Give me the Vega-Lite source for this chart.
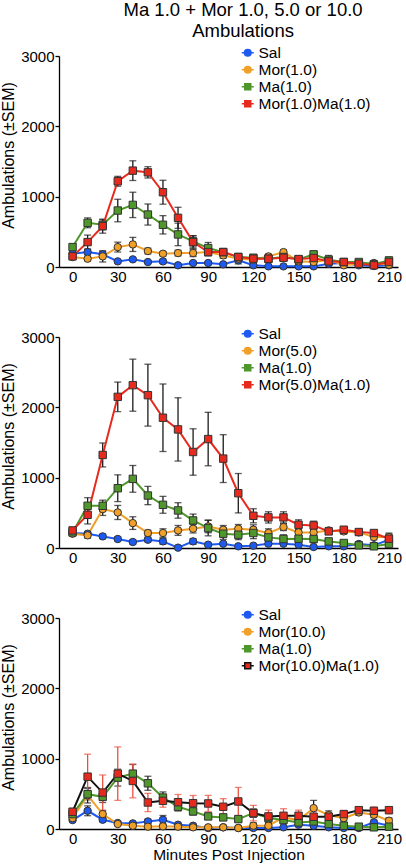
{
  "$schema": "https://vega.github.io/schema/vega-lite/v6.json",
  "padding": {"left": 0, "top": 0, "right": 0, "bottom": 0},
  "background": "white",
  "title": {"text": ["Ma 1.0 + Mor 1.0, 5.0 or 10.0", "Ambulations"], "font": "Liberation Sans", "fontSize": 18.5, "fontWeight": "normal", "lineHeight": 21, "color": "#000", "anchor": "middle", "dx": 42, "offset": 5},
  "datasets": {
    "p1": [
      {"s":"Sal","t":0,"v":189,"e":30},{"s":"Sal","t":10,"v":212,"e":40},{"s":"Sal","t":20,"v":180,"e":40},{"s":"Sal","t":30,"v":80,"e":20},{"s":"Sal","t":40,"v":109,"e":20},{"s":"Sal","t":50,"v":71,"e":20},{"s":"Sal","t":60,"v":80,"e":30},{"s":"Sal","t":70,"v":24,"e":15},{"s":"Sal","t":80,"v":57,"e":20},{"s":"Sal","t":90,"v":57,"e":20},{"s":"Sal","t":100,"v":38,"e":15},{"s":"Sal","t":110,"v":94,"e":50},{"s":"Sal","t":120,"v":24,"e":15},{"s":"Sal","t":130,"v":9,"e":8},{"s":"Sal","t":140,"v":9,"e":8},{"s":"Sal","t":150,"v":9,"e":8},{"s":"Sal","t":160,"v":9,"e":8},{"s":"Sal","t":170,"v":47,"e":20},{"s":"Sal","t":180,"v":57,"e":20},{"s":"Sal","t":190,"v":24,"e":15},{"s":"Sal","t":200,"v":14,"e":10},{"s":"Sal","t":210,"v":24,"e":15},
      {"s":"Mor(1.0)","t":0,"v":142,"e":30},{"s":"Mor(1.0)","t":10,"v":118,"e":30},{"s":"Mor(1.0)","t":20,"v":151,"e":80},{"s":"Mor(1.0)","t":30,"v":283,"e":70},{"s":"Mor(1.0)","t":40,"v":321,"e":100},{"s":"Mor(1.0)","t":50,"v":227,"e":40},{"s":"Mor(1.0)","t":60,"v":189,"e":30},{"s":"Mor(1.0)","t":70,"v":198,"e":40},{"s":"Mor(1.0)","t":80,"v":198,"e":50},{"s":"Mor(1.0)","t":90,"v":212,"e":50},{"s":"Mor(1.0)","t":100,"v":165,"e":40},{"s":"Mor(1.0)","t":110,"v":118,"e":30},{"s":"Mor(1.0)","t":120,"v":104,"e":30},{"s":"Mor(1.0)","t":130,"v":151,"e":30},{"s":"Mor(1.0)","t":140,"v":212,"e":30},{"s":"Mor(1.0)","t":150,"v":80,"e":20},{"s":"Mor(1.0)","t":160,"v":71,"e":20},{"s":"Mor(1.0)","t":170,"v":104,"e":30},{"s":"Mor(1.0)","t":180,"v":24,"e":15},{"s":"Mor(1.0)","t":190,"v":47,"e":20},{"s":"Mor(1.0)","t":200,"v":57,"e":20},{"s":"Mor(1.0)","t":210,"v":33,"e":20},
      {"s":"Ma(1.0)","t":0,"v":283,"e":40},{"s":"Ma(1.0)","t":10,"v":628,"e":70},{"s":"Ma(1.0)","t":20,"v":600,"e":70},{"s":"Ma(1.0)","t":30,"v":803,"e":160},{"s":"Ma(1.0)","t":40,"v":883,"e":180},{"s":"Ma(1.0)","t":50,"v":746,"e":150},{"s":"Ma(1.0)","t":60,"v":600,"e":130},{"s":"Ma(1.0)","t":70,"v":463,"e":160},{"s":"Ma(1.0)","t":80,"v":364,"e":80},{"s":"Ma(1.0)","t":90,"v":269,"e":80},{"s":"Ma(1.0)","t":100,"v":212,"e":50},{"s":"Ma(1.0)","t":110,"v":142,"e":40},{"s":"Ma(1.0)","t":120,"v":132,"e":30},{"s":"Ma(1.0)","t":130,"v":118,"e":30},{"s":"Ma(1.0)","t":140,"v":142,"e":30},{"s":"Ma(1.0)","t":150,"v":109,"e":30},{"s":"Ma(1.0)","t":160,"v":180,"e":40},{"s":"Ma(1.0)","t":170,"v":104,"e":60},{"s":"Ma(1.0)","t":180,"v":71,"e":30},{"s":"Ma(1.0)","t":190,"v":71,"e":20},{"s":"Ma(1.0)","t":200,"v":38,"e":20},{"s":"Ma(1.0)","t":210,"v":94,"e":30},
      {"s":"Mor(1.0)Ma(1.0)","t":0,"v":151,"e":40},{"s":"Mor(1.0)Ma(1.0)","t":10,"v":354,"e":100},{"s":"Mor(1.0)Ma(1.0)","t":20,"v":581,"e":100},{"s":"Mor(1.0)Ma(1.0)","t":30,"v":1219,"e":70},{"s":"Mor(1.0)Ma(1.0)","t":40,"v":1370,"e":140},{"s":"Mor(1.0)Ma(1.0)","t":50,"v":1346,"e":80},{"s":"Mor(1.0)Ma(1.0)","t":60,"v":1063,"e":170},{"s":"Mor(1.0)Ma(1.0)","t":70,"v":699,"e":150},{"s":"Mor(1.0)Ma(1.0)","t":80,"v":354,"e":90},{"s":"Mor(1.0)Ma(1.0)","t":90,"v":212,"e":50},{"s":"Mor(1.0)Ma(1.0)","t":100,"v":212,"e":40},{"s":"Mor(1.0)Ma(1.0)","t":110,"v":142,"e":30},{"s":"Mor(1.0)Ma(1.0)","t":120,"v":118,"e":30},{"s":"Mor(1.0)Ma(1.0)","t":130,"v":118,"e":30},{"s":"Mor(1.0)Ma(1.0)","t":140,"v":132,"e":30},{"s":"Mor(1.0)Ma(1.0)","t":150,"v":113,"e":30},{"s":"Mor(1.0)Ma(1.0)","t":160,"v":128,"e":30},{"s":"Mor(1.0)Ma(1.0)","t":170,"v":80,"e":30},{"s":"Mor(1.0)Ma(1.0)","t":180,"v":71,"e":20},{"s":"Mor(1.0)Ma(1.0)","t":190,"v":47,"e":20},{"s":"Mor(1.0)Ma(1.0)","t":200,"v":24,"e":15},{"s":"Mor(1.0)Ma(1.0)","t":210,"v":71,"e":20}
    ],
    "p2": [
      {"s":"Sal","t":0,"v":213,"e":30},{"s":"Sal","t":10,"v":203,"e":30},{"s":"Sal","t":20,"v":165,"e":30},{"s":"Sal","t":30,"v":128,"e":30},{"s":"Sal","t":40,"v":85,"e":30},{"s":"Sal","t":50,"v":118,"e":30},{"s":"Sal","t":60,"v":94,"e":40},{"s":"Sal","t":70,"v":5,"e":5},{"s":"Sal","t":80,"v":94,"e":40},{"s":"Sal","t":90,"v":47,"e":20},{"s":"Sal","t":100,"v":61,"e":20},{"s":"Sal","t":110,"v":24,"e":15},{"s":"Sal","t":120,"v":33,"e":20},{"s":"Sal","t":130,"v":61,"e":20},{"s":"Sal","t":140,"v":61,"e":20},{"s":"Sal","t":150,"v":47,"e":20},{"s":"Sal","t":160,"v":14,"e":10},{"s":"Sal","t":170,"v":24,"e":15},{"s":"Sal","t":180,"v":24,"e":15},{"s":"Sal","t":190,"v":57,"e":20},{"s":"Sal","t":200,"v":38,"e":20},{"s":"Sal","t":210,"v":118,"e":30},
      {"s":"Mor(5.0)","t":0,"v":203,"e":30},{"s":"Mor(5.0)","t":10,"v":180,"e":40},{"s":"Mor(5.0)","t":20,"v":553,"e":90},{"s":"Mor(5.0)","t":30,"v":505,"e":100},{"s":"Mor(5.0)","t":40,"v":354,"e":90},{"s":"Mor(5.0)","t":50,"v":213,"e":40},{"s":"Mor(5.0)","t":60,"v":213,"e":60},{"s":"Mor(5.0)","t":70,"v":250,"e":70},{"s":"Mor(5.0)","t":80,"v":274,"e":60},{"s":"Mor(5.0)","t":90,"v":307,"e":90},{"s":"Mor(5.0)","t":100,"v":260,"e":60},{"s":"Mor(5.0)","t":110,"v":274,"e":60},{"s":"Mor(5.0)","t":120,"v":260,"e":70},{"s":"Mor(5.0)","t":130,"v":213,"e":60},{"s":"Mor(5.0)","t":140,"v":298,"e":50},{"s":"Mor(5.0)","t":150,"v":222,"e":50},{"s":"Mor(5.0)","t":160,"v":222,"e":50},{"s":"Mor(5.0)","t":170,"v":250,"e":40},{"s":"Mor(5.0)","t":180,"v":236,"e":40},{"s":"Mor(5.0)","t":190,"v":222,"e":40},{"s":"Mor(5.0)","t":200,"v":156,"e":40},{"s":"Mor(5.0)","t":210,"v":156,"e":40},
      {"s":"Ma(1.0)","t":0,"v":222,"e":40},{"s":"Ma(1.0)","t":10,"v":600,"e":115},{"s":"Ma(1.0)","t":20,"v":600,"e":80},{"s":"Ma(1.0)","t":30,"v":850,"e":190},{"s":"Ma(1.0)","t":40,"v":983,"e":190},{"s":"Ma(1.0)","t":50,"v":746,"e":130},{"s":"Ma(1.0)","t":60,"v":614,"e":120},{"s":"Ma(1.0)","t":70,"v":534,"e":110},{"s":"Ma(1.0)","t":80,"v":392,"e":90},{"s":"Ma(1.0)","t":90,"v":283,"e":110},{"s":"Ma(1.0)","t":100,"v":203,"e":80},{"s":"Ma(1.0)","t":110,"v":189,"e":70},{"s":"Ma(1.0)","t":120,"v":213,"e":80},{"s":"Ma(1.0)","t":130,"v":151,"e":60},{"s":"Ma(1.0)","t":140,"v":128,"e":60},{"s":"Ma(1.0)","t":150,"v":132,"e":50},{"s":"Ma(1.0)","t":160,"v":128,"e":50},{"s":"Ma(1.0)","t":170,"v":94,"e":40},{"s":"Ma(1.0)","t":180,"v":71,"e":30},{"s":"Ma(1.0)","t":190,"v":38,"e":30},{"s":"Ma(1.0)","t":200,"v":24,"e":20},{"s":"Ma(1.0)","t":210,"v":57,"e":40},
      {"s":"Mor(5.0)Ma(1.0)","t":0,"v":250,"e":40},{"s":"Mor(5.0)Ma(1.0)","t":10,"v":472,"e":130},{"s":"Mor(5.0)Ma(1.0)","t":20,"v":1323,"e":170},{"s":"Mor(5.0)Ma(1.0)","t":30,"v":2149,"e":210},{"s":"Mor(5.0)Ma(1.0)","t":40,"v":2315,"e":370},{"s":"Mor(5.0)Ma(1.0)","t":50,"v":2173,"e":440},{"s":"Mor(5.0)Ma(1.0)","t":60,"v":1852,"e":480},{"s":"Mor(5.0)Ma(1.0)","t":70,"v":1686,"e":450},{"s":"Mor(5.0)Ma(1.0)","t":80,"v":1365,"e":330},{"s":"Mor(5.0)Ma(1.0)","t":90,"v":1549,"e":380},{"s":"Mor(5.0)Ma(1.0)","t":100,"v":1271,"e":340},{"s":"Mor(5.0)Ma(1.0)","t":110,"v":779,"e":280},{"s":"Mor(5.0)Ma(1.0)","t":120,"v":458,"e":100},{"s":"Mor(5.0)Ma(1.0)","t":130,"v":435,"e":80},{"s":"Mor(5.0)Ma(1.0)","t":140,"v":435,"e":80},{"s":"Mor(5.0)Ma(1.0)","t":150,"v":331,"e":70},{"s":"Mor(5.0)Ma(1.0)","t":160,"v":321,"e":60},{"s":"Mor(5.0)Ma(1.0)","t":170,"v":236,"e":40},{"s":"Mor(5.0)Ma(1.0)","t":180,"v":260,"e":40},{"s":"Mor(5.0)Ma(1.0)","t":190,"v":227,"e":40},{"s":"Mor(5.0)Ma(1.0)","t":200,"v":213,"e":40},{"s":"Mor(5.0)Ma(1.0)","t":210,"v":132,"e":80}
    ],
    "p3": [
      {"s":"Sal","t":0,"v":127,"e":20},{"s":"Sal","t":10,"v":259,"e":70},{"s":"Sal","t":20,"v":132,"e":30},{"s":"Sal","t":30,"v":85,"e":20},{"s":"Sal","t":40,"v":80,"e":20},{"s":"Sal","t":50,"v":108,"e":30},{"s":"Sal","t":60,"v":132,"e":60},{"s":"Sal","t":70,"v":61,"e":20},{"s":"Sal","t":80,"v":47,"e":20},{"s":"Sal","t":90,"v":14,"e":10},{"s":"Sal","t":100,"v":24,"e":10},{"s":"Sal","t":110,"v":14,"e":10},{"s":"Sal","t":120,"v":14,"e":10},{"s":"Sal","t":130,"v":14,"e":10},{"s":"Sal","t":140,"v":24,"e":10},{"s":"Sal","t":150,"v":61,"e":20},{"s":"Sal","t":160,"v":47,"e":20},{"s":"Sal","t":170,"v":24,"e":10},{"s":"Sal","t":180,"v":14,"e":10},{"s":"Sal","t":190,"v":14,"e":10},{"s":"Sal","t":200,"v":94,"e":30},{"s":"Sal","t":210,"v":47,"e":20},
      {"s":"Mor(10.0)","t":0,"v":155,"e":30},{"s":"Mor(10.0)","t":10,"v":480,"e":110},{"s":"Mor(10.0)","t":20,"v":212,"e":50},{"s":"Mor(10.0)","t":30,"v":71,"e":20},{"s":"Mor(10.0)","t":40,"v":47,"e":20},{"s":"Mor(10.0)","t":50,"v":33,"e":20},{"s":"Mor(10.0)","t":60,"v":38,"e":20},{"s":"Mor(10.0)","t":70,"v":33,"e":20},{"s":"Mor(10.0)","t":80,"v":24,"e":10},{"s":"Mor(10.0)","t":90,"v":24,"e":10},{"s":"Mor(10.0)","t":100,"v":24,"e":10},{"s":"Mor(10.0)","t":110,"v":14,"e":10},{"s":"Mor(10.0)","t":120,"v":47,"e":40},{"s":"Mor(10.0)","t":130,"v":47,"e":40},{"s":"Mor(10.0)","t":140,"v":165,"e":50},{"s":"Mor(10.0)","t":150,"v":127,"e":50},{"s":"Mor(10.0)","t":160,"v":297,"e":110},{"s":"Mor(10.0)","t":170,"v":198,"e":60},{"s":"Mor(10.0)","t":180,"v":155,"e":40},{"s":"Mor(10.0)","t":190,"v":235,"e":40},{"s":"Mor(10.0)","t":200,"v":203,"e":40},{"s":"Mor(10.0)","t":210,"v":118,"e":40},
      {"s":"Ma(1.0)","t":0,"v":212,"e":40},{"s":"Ma(1.0)","t":10,"v":495,"e":80},{"s":"Ma(1.0)","t":20,"v":457,"e":80},{"s":"Ma(1.0)","t":30,"v":730,"e":120},{"s":"Ma(1.0)","t":40,"v":787,"e":130},{"s":"Ma(1.0)","t":50,"v":650,"e":100},{"s":"Ma(1.0)","t":60,"v":447,"e":80},{"s":"Ma(1.0)","t":70,"v":316,"e":60},{"s":"Ma(1.0)","t":80,"v":250,"e":50},{"s":"Ma(1.0)","t":90,"v":179,"e":40},{"s":"Ma(1.0)","t":100,"v":165,"e":40},{"s":"Ma(1.0)","t":110,"v":141,"e":40},{"s":"Ma(1.0)","t":120,"v":226,"e":60},{"s":"Ma(1.0)","t":130,"v":155,"e":50},{"s":"Ma(1.0)","t":140,"v":127,"e":40},{"s":"Ma(1.0)","t":150,"v":94,"e":40},{"s":"Ma(1.0)","t":160,"v":108,"e":40},{"s":"Ma(1.0)","t":170,"v":71,"e":30},{"s":"Ma(1.0)","t":180,"v":47,"e":20},{"s":"Ma(1.0)","t":190,"v":33,"e":20},{"s":"Ma(1.0)","t":200,"v":24,"e":10},{"s":"Ma(1.0)","t":210,"v":33,"e":20},
      {"s":"Mor(10.0)Ma(1.0)","t":0,"v":245,"e":50},{"s":"Mor(10.0)Ma(1.0)","t":10,"v":744,"e":320},{"s":"Mor(10.0)Ma(1.0)","t":20,"v":518,"e":250},{"s":"Mor(10.0)Ma(1.0)","t":30,"v":787,"e":380},{"s":"Mor(10.0)Ma(1.0)","t":40,"v":683,"e":240},{"s":"Mor(10.0)Ma(1.0)","t":50,"v":377,"e":130},{"s":"Mor(10.0)Ma(1.0)","t":60,"v":400,"e":90},{"s":"Mor(10.0)Ma(1.0)","t":70,"v":381,"e":110},{"s":"Mor(10.0)Ma(1.0)","t":80,"v":367,"e":110},{"s":"Mor(10.0)Ma(1.0)","t":90,"v":363,"e":115},{"s":"Mor(10.0)Ma(1.0)","t":100,"v":316,"e":115},{"s":"Mor(10.0)Ma(1.0)","t":110,"v":391,"e":200},{"s":"Mor(10.0)Ma(1.0)","t":120,"v":226,"e":110},{"s":"Mor(10.0)Ma(1.0)","t":130,"v":179,"e":90},{"s":"Mor(10.0)Ma(1.0)","t":140,"v":188,"e":100},{"s":"Mor(10.0)Ma(1.0)","t":150,"v":188,"e":80},{"s":"Mor(10.0)Ma(1.0)","t":160,"v":174,"e":70},{"s":"Mor(10.0)Ma(1.0)","t":170,"v":174,"e":60},{"s":"Mor(10.0)Ma(1.0)","t":180,"v":212,"e":50},{"s":"Mor(10.0)Ma(1.0)","t":190,"v":268,"e":50},{"s":"Mor(10.0)Ma(1.0)","t":200,"v":259,"e":50},{"s":"Mor(10.0)Ma(1.0)","t":210,"v":268,"e":50}
    ]
  },
  "vconcat": [
    {
      "width": 339, "height": 211,
      "data": {"name": "p1"},
      "resolve": {"scale": {"fill": "independent", "stroke": "independent", "shape": "independent"}},
      "layer": [
        {"mark": {"type": "errorbar", "color": "#1a1a1a", "thickness": 1.3, "ticks": {"size": 7, "thickness": 1.3}},
         "encoding": {
           "x": {"field": "t", "type": "quantitative", "scale": {"domain": [-9, 216], "nice": false, "zero": false}, "axis": {"values": [0,30,60,90,120,150,180,210], "ticks": false, "labelPadding": 2, "title": null, "labelFlush": false, "domainWidth": 1.3}},
           "y": {"field": "v", "type": "quantitative", "title": "Ambulations (±SEM)", "scale": {"domain": [0, 3000], "nice": false}, "axis": {"values": [0,500,1000,1500,2000,2500,3000], "format": "d", "tickSize": 4, "tickWidth": 1.3, "domainWidth": 1.3, "labelPadding": 1, "labelFlush": false, "titleFontSize": 16, "titlePadding": 4, "titleY": 99}},
           "yError": {"field": "e"}
         }},
        {"mark": {"type": "line", "strokeWidth": 2},
         "encoding": {
           "x": {"field": "t", "type": "quantitative"},
           "y": {"field": "v", "type": "quantitative", "title": "Ambulations (±SEM)"},
           "stroke": {"field": "s", "type": "nominal", "scale": {"domain": ["Mor(1.0)Ma(1.0)","Ma(1.0)","Mor(1.0)","Sal"], "range": ["#e62a1e","#4f962b","#f0a028","#1e5af0"]}, "legend": null}
         }},
        {"mark": {"type": "point", "filled": true, "size": 55, "stroke": "#333", "strokeWidth": 1, "opacity": 1},
         "encoding": {
           "x": {"field": "t", "type": "quantitative"},
           "y": {"field": "v", "type": "quantitative", "title": "Ambulations (±SEM)"},
           "fill": {"field": "s", "type": "nominal", "scale": {"domain": ["Mor(1.0)Ma(1.0)","Ma(1.0)","Mor(1.0)","Sal"], "range": ["#e62a1e","#4f962b","#f0a028","#1e5af0"]}, "legend": null},
           "shape": {"field": "s", "type": "nominal", "scale": {"domain": ["Mor(1.0)Ma(1.0)","Ma(1.0)","Mor(1.0)","Sal"], "range": ["square","square","circle","circle"]}, "legend": null}
         }},
        {"transform": [{"filter": "false"}],
         "mark": {"type": "point", "filled": true, "opacity": 1},
         "encoding": {
           "x": {"field": "t", "type": "quantitative"},
           "y": {"field": "v", "type": "quantitative", "title": "Ambulations (±SEM)"},
           "fill": {"field": "s", "type": "nominal", "scale": {"domain": ["Sal","Mor(1.0)","Ma(1.0)","Mor(1.0)Ma(1.0)"], "range": ["#1e5af0","#f0a028","#4f962b","#e62a1e"]},
             "legend": {"title": null, "orient": "none", "legendX": 181, "legendY": -11, "padding": 0, "labelFont": "Liberation Sans", "labelFontSize": 15.5, "labelColor": "#000", "labelOffset": 3, "rowPadding": -4, "symbolSize": 144, "symbolStrokeWidth": 1.5, "symbolOpacity": 1, "labelLimit": 300}},
           "stroke": {"field": "s", "type": "nominal", "scale": {"domain": ["Sal","Mor(1.0)","Ma(1.0)","Mor(1.0)Ma(1.0)"], "range": ["#1e5af0","#f0a028","#4f962b","#e62a1e"]}},
           "shape": {"field": "s", "type": "nominal", "scale": {"domain": ["Sal","Mor(1.0)","Ma(1.0)","Mor(1.0)Ma(1.0)"], "range": ["M-1,0L-0.55,0M0.55,0L1,0M-0.55,0A0.55,0.55,0,1,1,0.55,0A0.55,0.55,0,1,1,-0.55,0Z","M-1,0L-0.55,0M0.55,0L1,0M-0.55,0A0.55,0.55,0,1,1,0.55,0A0.55,0.55,0,1,1,-0.55,0Z","M-1,0L-0.5,0M0.5,0L1,0M-0.5,-0.5L0.5,-0.5L0.5,0.5L-0.5,0.5Z","M-1,0L-0.5,0M0.5,0L1,0M-0.5,-0.5L0.5,-0.5L0.5,0.5L-0.5,0.5Z"]}}
         }}
      ]
    },
    {
      "width": 339, "height": 211,
      "data": {"name": "p2"},
      "resolve": {"scale": {"fill": "independent", "stroke": "independent", "shape": "independent"}},
      "layer": [
        {"mark": {"type": "errorbar", "color": "#1a1a1a", "thickness": 1.3, "ticks": {"size": 7, "thickness": 1.3}},
         "encoding": {
           "x": {"field": "t", "type": "quantitative", "scale": {"domain": [-9, 216], "nice": false, "zero": false}, "axis": {"values": [0,30,60,90,120,150,180,210], "ticks": false, "labelPadding": 2, "title": null, "labelFlush": false, "domainWidth": 1.3}},
           "y": {"field": "v", "type": "quantitative", "title": "Ambulations (±SEM)", "scale": {"domain": [0, 3000], "nice": false}, "axis": {"values": [0,500,1000,1500,2000,2500,3000], "format": "d", "tickSize": 4, "tickWidth": 1.3, "domainWidth": 1.3, "labelPadding": 1, "labelFlush": false, "titleFontSize": 16, "titlePadding": 4, "titleY": 99}},
           "yError": {"field": "e"}
         }},
        {"mark": {"type": "line", "strokeWidth": 2},
         "encoding": {
           "x": {"field": "t", "type": "quantitative"},
           "y": {"field": "v", "type": "quantitative", "title": "Ambulations (±SEM)"},
           "stroke": {"field": "s", "type": "nominal", "scale": {"domain": ["Mor(5.0)Ma(1.0)","Ma(1.0)","Mor(5.0)","Sal"], "range": ["#e62a1e","#4f962b","#f0a028","#1e5af0"]}, "legend": null}
         }},
        {"mark": {"type": "point", "filled": true, "size": 55, "stroke": "#333", "strokeWidth": 1, "opacity": 1},
         "encoding": {
           "x": {"field": "t", "type": "quantitative"},
           "y": {"field": "v", "type": "quantitative", "title": "Ambulations (±SEM)"},
           "fill": {"field": "s", "type": "nominal", "scale": {"domain": ["Mor(5.0)Ma(1.0)","Ma(1.0)","Mor(5.0)","Sal"], "range": ["#e62a1e","#4f962b","#f0a028","#1e5af0"]}, "legend": null},
           "shape": {"field": "s", "type": "nominal", "scale": {"domain": ["Mor(5.0)Ma(1.0)","Ma(1.0)","Mor(5.0)","Sal"], "range": ["square","square","circle","circle"]}, "legend": null}
         }},
        {"transform": [{"filter": "false"}],
         "mark": {"type": "point", "filled": true, "opacity": 1},
         "encoding": {
           "x": {"field": "t", "type": "quantitative"},
           "y": {"field": "v", "type": "quantitative", "title": "Ambulations (±SEM)"},
           "fill": {"field": "s", "type": "nominal", "scale": {"domain": ["Sal","Mor(5.0)","Ma(1.0)","Mor(5.0)Ma(1.0)"], "range": ["#1e5af0","#f0a028","#4f962b","#e62a1e"]},
             "legend": {"title": null, "orient": "none", "legendX": 181, "legendY": -11, "padding": 0, "labelFont": "Liberation Sans", "labelFontSize": 15.5, "labelColor": "#000", "labelOffset": 3, "rowPadding": -4, "symbolSize": 144, "symbolStrokeWidth": 1.5, "symbolOpacity": 1, "labelLimit": 300}},
           "stroke": {"field": "s", "type": "nominal", "scale": {"domain": ["Sal","Mor(5.0)","Ma(1.0)","Mor(5.0)Ma(1.0)"], "range": ["#1e5af0","#f0a028","#4f962b","#e62a1e"]}},
           "shape": {"field": "s", "type": "nominal", "scale": {"domain": ["Sal","Mor(5.0)","Ma(1.0)","Mor(5.0)Ma(1.0)"], "range": ["M-1,0L-0.55,0M0.55,0L1,0M-0.55,0A0.55,0.55,0,1,1,0.55,0A0.55,0.55,0,1,1,-0.55,0Z","M-1,0L-0.55,0M0.55,0L1,0M-0.55,0A0.55,0.55,0,1,1,0.55,0A0.55,0.55,0,1,1,-0.55,0Z","M-1,0L-0.5,0M0.5,0L1,0M-0.5,-0.5L0.5,-0.5L0.5,0.5L-0.5,0.5Z","M-1,0L-0.5,0M0.5,0L1,0M-0.5,-0.5L0.5,-0.5L0.5,0.5L-0.5,0.5Z"]}}
         }}
      ]
    },
    {
      "width": 339, "height": 211,
      "data": {"name": "p3"},
      "resolve": {"scale": {"fill": "independent", "stroke": "independent", "shape": "independent"}},
      "layer": [
        {"transform": [{"filter": "datum.s !== 'Mor(10.0)Ma(1.0)'"}],
         "mark": {"type": "errorbar", "color": "#1a1a1a", "thickness": 1.3, "ticks": {"size": 7, "thickness": 1.3}},
         "encoding": {
           "x": {"field": "t", "type": "quantitative", "title": "Minutes Post Injection", "scale": {"domain": [-9, 216], "nice": false, "zero": false}, "axis": {"values": [0,30,60,90,120,150,180,210], "ticks": false, "labelPadding": 2, "titleFontSize": 15.5, "titlePadding": 1, "labelFlush": false, "domainWidth": 1.3}},
           "y": {"field": "v", "type": "quantitative", "title": "Ambulations (±SEM)", "scale": {"domain": [0, 3000], "nice": false}, "axis": {"values": [0,500,1000,1500,2000,2500,3000], "format": "d", "tickSize": 4, "tickWidth": 1.3, "domainWidth": 1.3, "labelPadding": 1, "labelFlush": false, "titleFontSize": 16, "titlePadding": 4, "titleY": 99}},
           "yError": {"field": "e"}
         }},
        {"transform": [{"filter": "datum.s === 'Mor(10.0)Ma(1.0)'"}],
         "mark": {"type": "errorbar", "color": "#e8503e", "thickness": 1.3, "ticks": {"size": 7, "thickness": 1.3}},
         "encoding": {
           "x": {"field": "t", "type": "quantitative", "title": "Minutes Post Injection"},
           "y": {"field": "v", "type": "quantitative", "title": "Ambulations (±SEM)"},
           "yError": {"field": "e"}
         }},
        {"mark": {"type": "line", "strokeWidth": 2},
         "encoding": {
           "x": {"field": "t", "type": "quantitative", "title": "Minutes Post Injection"},
           "y": {"field": "v", "type": "quantitative", "title": "Ambulations (±SEM)"},
           "stroke": {"field": "s", "type": "nominal", "scale": {"domain": ["Mor(10.0)Ma(1.0)","Ma(1.0)","Mor(10.0)","Sal"], "range": ["#111111","#4f962b","#f0a028","#1e5af0"]}, "legend": null}
         }},
        {"mark": {"type": "point", "filled": true, "size": 55, "stroke": "#333", "strokeWidth": 1, "opacity": 1},
         "encoding": {
           "x": {"field": "t", "type": "quantitative", "title": "Minutes Post Injection"},
           "y": {"field": "v", "type": "quantitative", "title": "Ambulations (±SEM)"},
           "fill": {"field": "s", "type": "nominal", "scale": {"domain": ["Mor(10.0)Ma(1.0)","Ma(1.0)","Mor(10.0)","Sal"], "range": ["#e62a1e","#4f962b","#f0a028","#1e5af0"]}, "legend": null},
           "shape": {"field": "s", "type": "nominal", "scale": {"domain": ["Mor(10.0)Ma(1.0)","Ma(1.0)","Mor(10.0)","Sal"], "range": ["square","square","circle","circle"]}, "legend": null}
         }},
        {"transform": [{"filter": "false"}],
         "mark": {"type": "point", "filled": true, "opacity": 1},
         "encoding": {
           "x": {"field": "t", "type": "quantitative", "title": "Minutes Post Injection"},
           "y": {"field": "v", "type": "quantitative", "title": "Ambulations (±SEM)"},
           "fill": {"field": "s", "type": "nominal", "scale": {"domain": ["Sal","Mor(10.0)","Ma(1.0)","Mor(10.0)Ma(1.0)"], "range": ["#1e5af0","#f0a028","#4f962b","#e62a1e"]},
             "legend": {"title": null, "orient": "none", "legendX": 181, "legendY": -11, "padding": 0, "labelFont": "Liberation Sans", "labelFontSize": 15.5, "labelColor": "#000", "labelOffset": 3, "rowPadding": -4, "symbolSize": 144, "symbolStrokeWidth": 1.5, "symbolOpacity": 1, "labelLimit": 300}},
           "stroke": {"field": "s", "type": "nominal", "scale": {"domain": ["Sal","Mor(10.0)","Ma(1.0)","Mor(10.0)Ma(1.0)"], "range": ["#1e5af0","#f0a028","#4f962b","#111111"]}},
           "shape": {"field": "s", "type": "nominal", "scale": {"domain": ["Sal","Mor(10.0)","Ma(1.0)","Mor(10.0)Ma(1.0)"], "range": ["M-1,0L-0.55,0M0.55,0L1,0M-0.55,0A0.55,0.55,0,1,1,0.55,0A0.55,0.55,0,1,1,-0.55,0Z","M-1,0L-0.55,0M0.55,0L1,0M-0.55,0A0.55,0.55,0,1,1,0.55,0A0.55,0.55,0,1,1,-0.55,0Z","M-1,0L-0.5,0M0.5,0L1,0M-0.5,-0.5L0.5,-0.5L0.5,0.5L-0.5,0.5Z","M-1,0L-0.5,0M0.5,0L1,0M-0.5,-0.5L0.5,-0.5L0.5,0.5L-0.5,0.5Z"]}}
         }}
      ]
    }
  ],
  "spacing": 70,
  "bounds": "flush",
  "resolve": {"scale": {"fill": "independent", "stroke": "independent", "shape": "independent"}, "legend": {"fill": "independent", "stroke": "independent", "shape": "independent"}},
  "config": {
    "font": "Liberation Sans",
    "view": {"stroke": null},
    "axis": {"grid": false, "domainColor": "#000", "tickColor": "#000", "labelColor": "#000", "titleColor": "#000", "labelFont": "Liberation Sans", "titleFont": "Liberation Sans", "labelFontSize": 15, "titleFontWeight": "normal"}
  }
}
